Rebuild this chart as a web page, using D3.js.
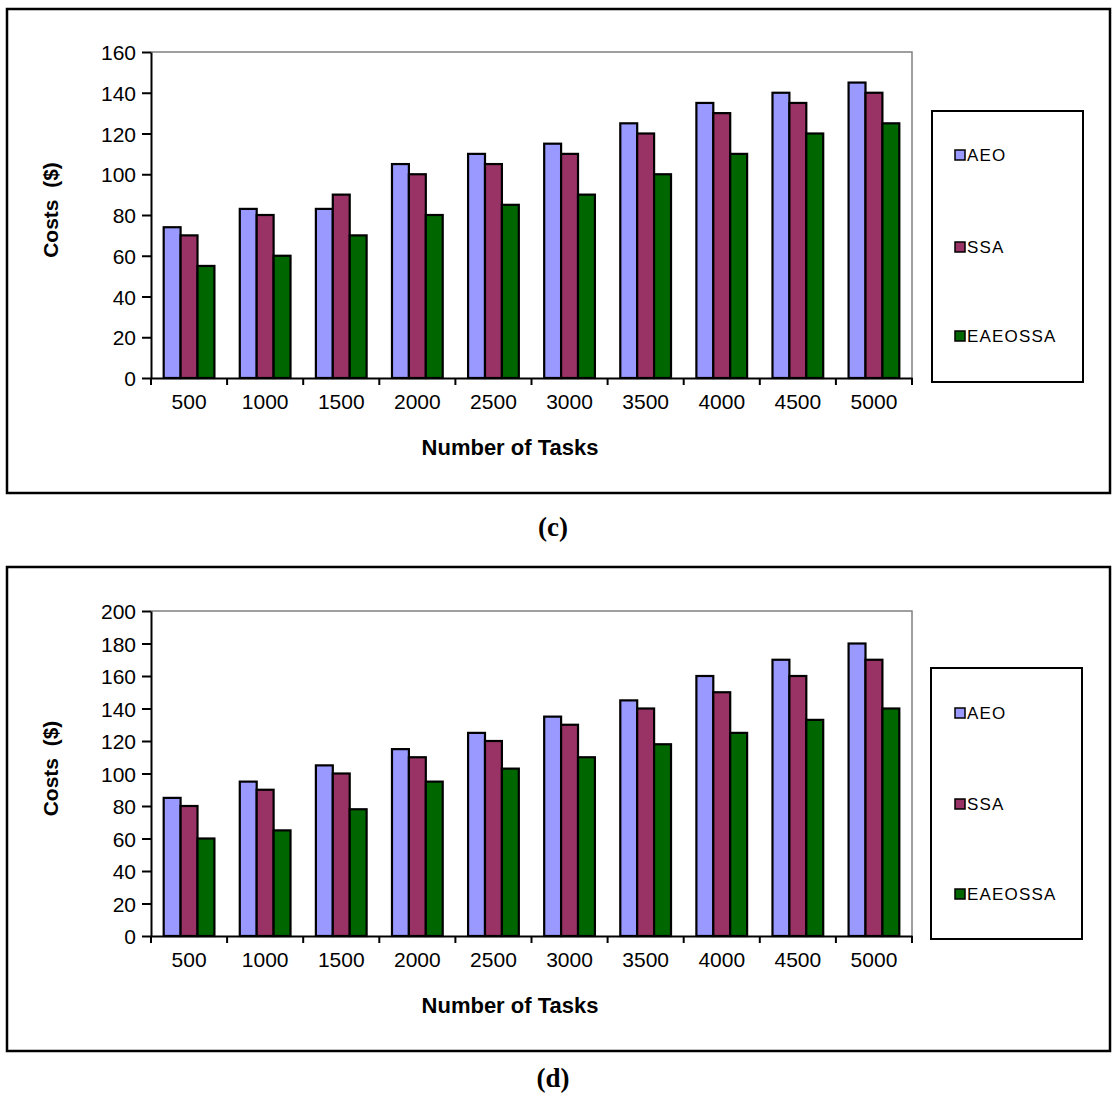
<!DOCTYPE html>
<html>
<head>
    <meta charset="utf-8">
    <title>Costs vs Number of Tasks</title>
    <style>
        * { margin: 0; padding: 0; }
        body { background: #fff; }
        #root { width: 1117px; height: 1102px; }
        .tick text { font-family: "Liberation Sans", Arial, sans-serif; }
    </style>
    <script src="https://cdn.jsdelivr.net/npm/d3@7/dist/d3.min.js"></script>
</head>
<body>
    <div id="root"></div>

    <script>
        // categories and series
        var tasks = ["500", "1000", "1500", "2000", "2500", "3000", "3500", "4000", "4500", "5000"];
        var seriesNames = ["AEO", "SSA", "EAEOSSA"];
        var seriesColors = ["#9999ff", "#993366", "#006600"];

        // chart (c)
        var costsC_AEO = [74, 83, 83, 105, 110, 115, 125, 135, 140, 145];
        var costsC_SSA = [70, 80, 90, 100, 105, 110, 120, 130, 135, 140];
        var costsC_EAEOSSA = [55, 60, 70, 80, 85, 90, 100, 110, 120, 125];
        var yTicksC = [0, 20, 40, 60, 80, 100, 120, 140, 160];

        // chart (d)
        var costsD_AEO = [85, 95, 105, 115, 125, 135, 145, 160, 170, 180];
        var costsD_SSA = [80, 90, 100, 110, 120, 130, 140, 150, 160, 170];
        var costsD_EAEOSSA = [60, 65, 78, 95, 103, 110, 118, 125, 133, 140];
        var yTicksD = [0, 20, 40, 60, 80, 100, 120, 140, 160, 180, 200];

        var svg = d3.select("#root").append("svg").attr("width", 1117).attr("height", 1102);

        render({
            top: 9, bottom: 493, plotTop: 52, plotBottom: 378,
            legend: [932, 111, 1083, 382], legendY: [155, 247, 336],
            yTicks: yTicksC, series: [costsC_AEO, costsC_SSA, costsC_EAEOSSA],
            caption: "(c)", captionY: 527
        });
        render({
            top: 567, bottom: 1051, plotTop: 611, plotBottom: 936,
            legend: [931, 668, 1082, 939], legendY: [713, 804, 894],
            yTicks: yTicksD, series: [costsD_AEO, costsD_SSA, costsD_EAEOSSA],
            caption: "(d)", captionY: 1078
        });

        function render(cfg) {
            var left = 151, right = 912;
            var g = svg.append("g");

            // outer frame
            g.append("rect")
                .attr("x", 7).attr("y", cfg.top)
                .attr("width", 1103).attr("height", cfg.bottom - cfg.top)
                .attr("fill", "none").attr("stroke", "#000").attr("stroke-width", 2.5);

            var x = d3.scaleBand().domain(tasks).range([left, right]).padding(0);
            var yMax = cfg.yTicks[cfg.yTicks.length - 1];
            var y = d3.scaleLinear().domain([0, yMax]).range([cfg.plotBottom, cfg.plotTop]);
            var bw = x.bandwidth();
            var x1 = d3.scaleBand().domain(seriesNames).range([bw * 0.75 / 4.5, bw * 3.75 / 4.5]).padding(0);

            // plot area border (top and right)
            g.append("path")
                .attr("d", `M${left},${cfg.plotTop}H${right}V${cfg.plotBottom}`)
                .attr("fill", "none").attr("stroke", "#808080").attr("stroke-width", 1.5);

            // bars
            seriesNames.forEach(function (name, si) {
                g.append("g").selectAll("rect").data(cfg.series[si]).enter()
                    .append("rect")
                    .attr("x", function (d, i) { return x(tasks[i]) + x1(name); })
                    .attr("y", function (d) { return y(d); })
                    .attr("width", x1.bandwidth())
                    .attr("height", function (d) { return y(0) - y(d); })
                    .attr("fill", seriesColors[si])
                    .attr("stroke", "#000")
                    .attr("stroke-width", 2.2);
            });

            // y axis
            var yAxis = d3.axisLeft(y).tickValues(cfg.yTicks).tickSize(9).tickSizeOuter(0).tickPadding(6);
            var ya = g.append("g").attr("transform", `translate(${left},0)`).call(yAxis);
            ya.select(".domain").attr("stroke", "#000").attr("stroke-width", 2);
            ya.selectAll(".tick line").attr("stroke", "#000").attr("stroke-width", 2);
            ya.selectAll(".tick text").attr("font-size", 21).attr("fill", "#000").attr("dy", "0.36em");

            // x axis: labels at band centers, ticks at band boundaries
            var xAxis = d3.axisBottom(x).tickSize(0).tickSizeOuter(0).tickPadding(16);
            var xa = g.append("g").attr("transform", `translate(0,${cfg.plotBottom})`).call(xAxis);
            xa.select(".domain").attr("stroke", "#000").attr("stroke-width", 2);
            xa.selectAll(".tick text").attr("font-size", 21).attr("fill", "#000");
            var bounds = tasks.map(function (t) { return x(t); }).concat([right]);
            xa.append("g").selectAll("line").data(bounds).enter()
                .append("line")
                .attr("x1", function (d) { return d; }).attr("x2", function (d) { return d; })
                .attr("y1", 0).attr("y2", 7)
                .attr("stroke", "#000").attr("stroke-width", 2);

            // axis titles
            g.append("text")
                .attr("transform", `translate(58,${(cfg.plotTop + cfg.plotBottom) / 2 - 5}) rotate(-90)`)
                .attr("text-anchor", "middle")
                .attr("font-family", "Liberation Sans, Arial, sans-serif")
                .attr("font-weight", "bold").attr("font-size", 21)
                .style("white-space", "pre")
                .text("Costs  ($)");

            g.append("text")
                .attr("x", 510).attr("y", cfg.plotBottom + 77)
                .attr("text-anchor", "middle")
                .attr("font-family", "Liberation Sans, Arial, sans-serif")
                .attr("font-weight", "bold").attr("font-size", 22)
                .text("Number of Tasks");

            // legend
            var lb = cfg.legend;
            g.append("rect")
                .attr("x", lb[0]).attr("y", lb[1])
                .attr("width", lb[2] - lb[0]).attr("height", lb[3] - lb[1])
                .attr("fill", "#fff").attr("stroke", "#000").attr("stroke-width", 2);
            seriesNames.forEach(function (name, si) {
                var ly = cfg.legendY[si];
                g.append("rect")
                    .attr("x", 955).attr("y", ly - 5)
                    .attr("width", 10).attr("height", 10)
                    .attr("fill", seriesColors[si]).attr("stroke", "#000").attr("stroke-width", 1.5);
                g.append("text")
                    .attr("x", 967).attr("y", ly + 6)
                    .attr("font-family", "Liberation Sans, Arial, sans-serif")
                    .attr("font-size", 17).attr("letter-spacing", 1.2)
                    .text(name);
            });

            // caption
            g.append("text")
                .attr("x", 553).attr("y", cfg.captionY + 9)
                .attr("text-anchor", "middle")
                .attr("font-family", "Liberation Serif, Times New Roman, serif")
                .attr("font-weight", "bold").attr("font-size", 27)
                .text(cfg.caption);
        }
    </script>
</body>
</html>
